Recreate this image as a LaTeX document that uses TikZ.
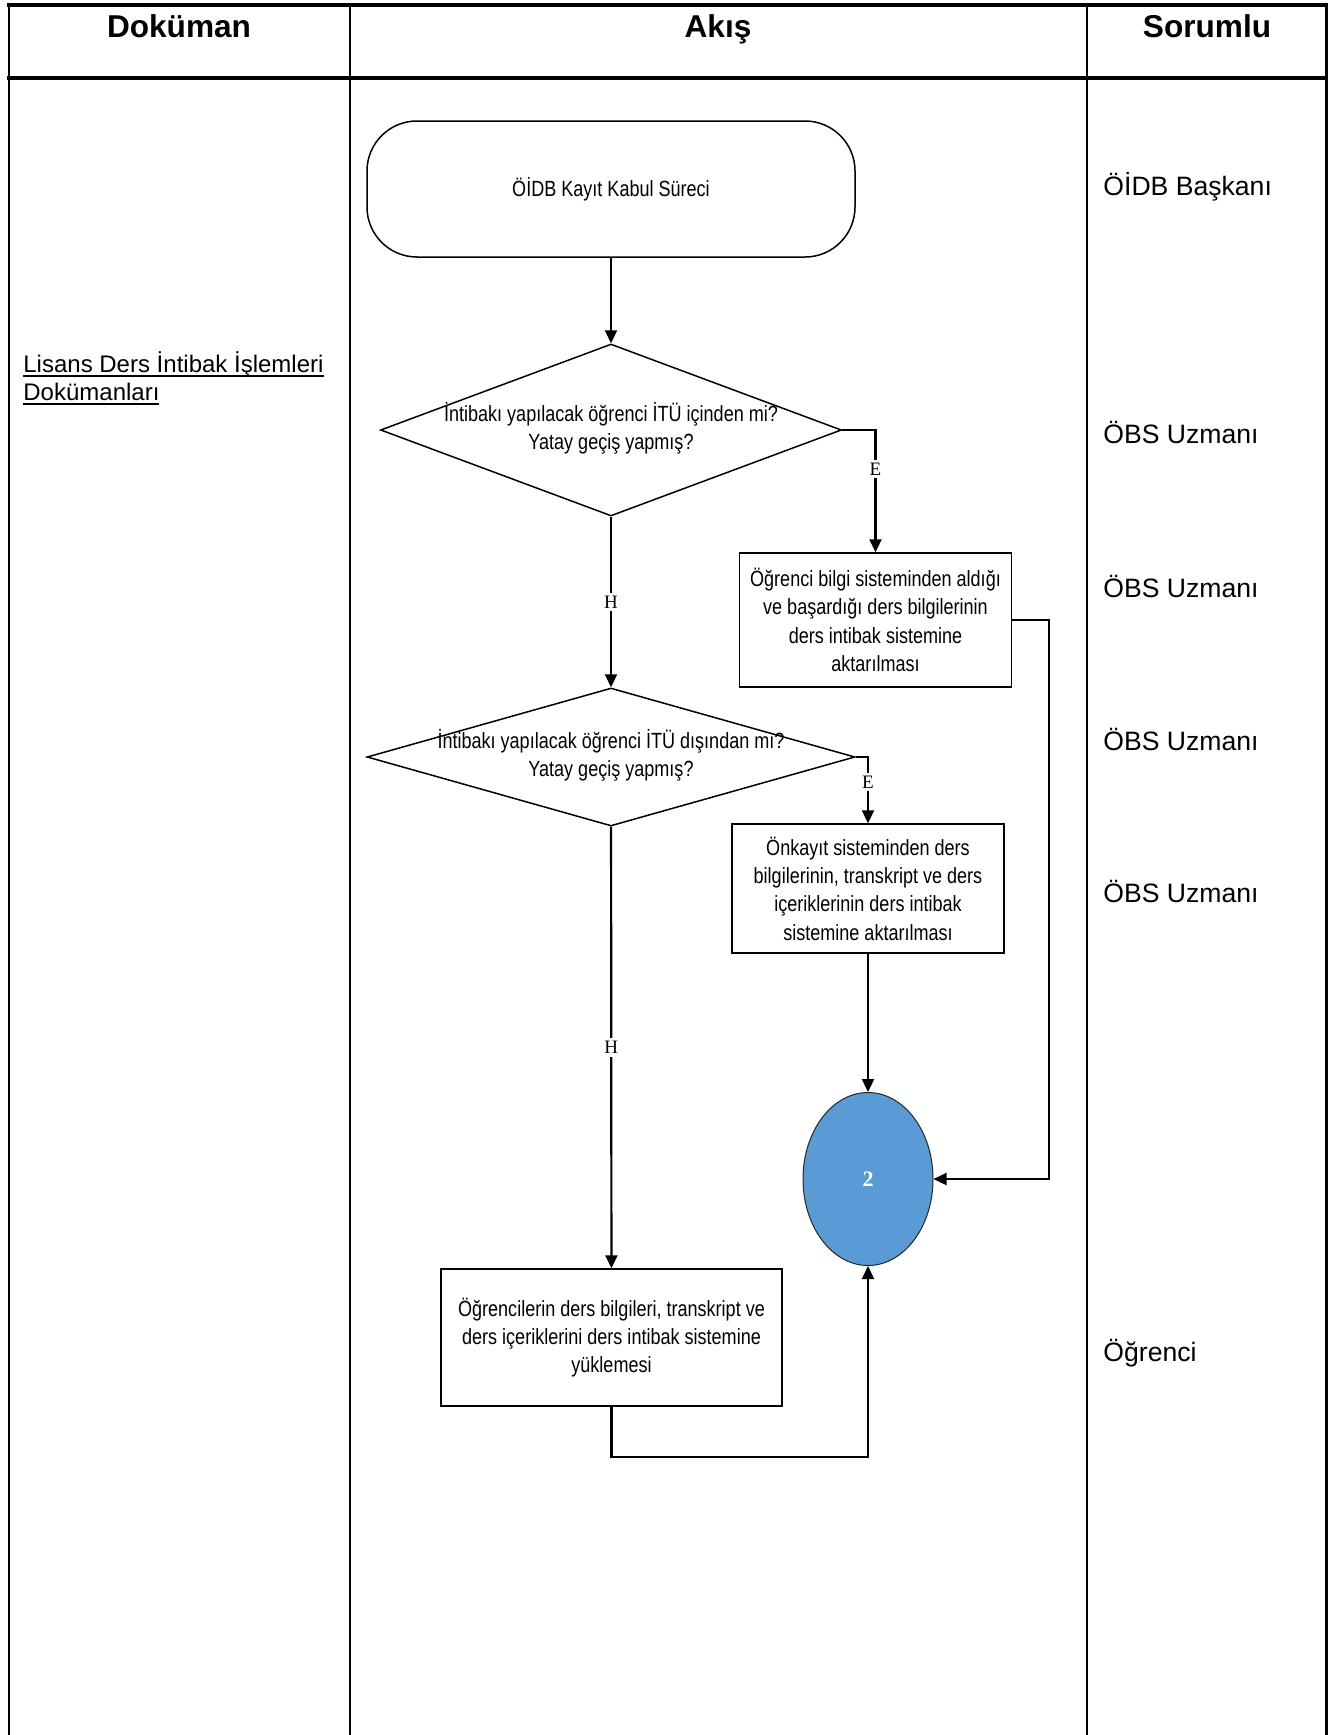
\documentclass[tikz,border=0pt]{standalone}
\usepackage{fontspec}
\setmainfont{Liberation Sans}
\newfontfamily\narrowfont{Liberation Sans}[FakeStretch=0.82]
\newfontfamily\timesfont{Liberation Serif}
\newcommand\docul[1]{\setbox0\hbox{#1}\rlap{\vrule height -1.3pt depth 2.2pt width \wd0}\box0}
\usepackage{tikz}
\definecolor{circleblue}{HTML}{5B9BD5}
\usetikzlibrary{arrows.meta, positioning, shapes.geometric}

\begin{document}
\begin{tikzpicture}[x=0.5pt, y=-0.5pt, >={Triangle[length=6.5pt,width=6pt]},
        terminal/.style={draw, line width=0.75pt, rounded corners=25pt, minimum width=244pt, minimum height=68pt, font=\narrowfont\fontsize{11}{14}\selectfont},
        process/.style={draw, line width=0.75pt, align=center, inner sep=2pt, font=\narrowfont\fontsize{11}{14.2}\selectfont},
        decision/.style={draw, diamond, line width=0.75pt, inner sep=0pt, font=\narrowfont\fontsize{11}{14}\selectfont},
        flow/.style={->, line width=1.1pt},
        choice/.style={fill=white, inner sep=1.5pt, font=\timesfont\fontsize{9.5}{11}\selectfont},
        role/.style={anchor=west, inner sep=0pt, font=\fontsize{13.3}{16}\selectfont},
        header/.style={anchor=base, font=\bfseries\fontsize{15.8}{19}\selectfont}]
        \useasboundingbox (0,0) rectangle (1335,1735);
        % table
        \draw[line width=1.8pt] (7,5) -- (1328,5);
        \draw[line width=2pt] (7,78) -- (1328,78);
        \draw[line width=1.4pt] (9,4) -- (9,1735);
        \draw[line width=1.2pt] (350,5) -- (350,1735);
        \draw[line width=1.4pt] (1087,5) -- (1087,1735);
        \draw[line width=1.6pt] (1326.5,4) -- (1326.5,1735);
        \node[header] (hdoc) at (179,37) {Doküman};
        \node[header] (hflow) at (718,37) {Akış};
        \node[header] (hresp) at (1207,37) {Sorumlu};
        \node[anchor=north west, align=left, inner sep=0pt, font=\fontsize{12}{14}\selectfont] (docs) at (23,351) {\docul{Lisans Ders İntibak İşlemleri}\\\docul{Dokümanları}};

        % flow
        \node[terminal] (start) at (611,189) {ÖİDB Kayıt Kabul Süreci};
        \node[decision, minimum width=230.5pt, minimum height=86pt] (q1) at (611,430) {\makebox[0pt]{\begin{tabular}{@{}c@{}}İntibakı yapılacak öğrenci İTÜ içinden mi?\\Yatay geçiş yapmış?\end{tabular}}};
        \node[process, minimum width=136pt, minimum height=67pt] (p1) at (875.5,620) {Öğrenci bilgi sisteminden aldığı\\ve başardığı ders bilgilerinin\\ders intibak sistemine\\aktarılması};
        \node[decision, minimum width=244pt, minimum height=69pt] (q2) at (611,757) {\makebox[0pt]{\begin{tabular}{@{}c@{}}İntibakı yapılacak öğrenci İTÜ dışından mı?\\Yatay geçiş yapmış?\end{tabular}}};
        \node[process, minimum width=136pt, minimum height=64.5pt] (p2) at (868,888.5) {Önkayıt sisteminden ders\\bilgilerinin, transkript ve ders\\içeriklerinin ders intibak\\sistemine aktarılması};
        \node[draw=black!85, line width=0.5pt, ellipse, fill=circleblue, minimum width=65pt, minimum height=86.5pt, text=white, font=\timesfont\bfseries\fontsize{11}{13}\selectfont] (c2) at (868,1179) {2};
        \node[process, minimum width=170.5pt, minimum height=68.5pt] (p3) at (611.5,1337.5) {Öğrencilerin ders bilgileri, transkript ve\\ders içeriklerini ders intibak sistemine\\yüklemesi};

        \draw[flow] (start) -- (q1);
        \draw[flow] (q1.east) -| node[choice, pos=0.66] {E} (p1.north);
        \draw[flow] (q1) -- node[choice] {H} (q2);
        \draw[flow] (q2.east) -| node[choice, pos=0.69] {E} (p2.north);
        \draw[flow] (p2) -- (c2);
        \draw[flow] (p1.east) -- ++(37,0) |- (c2.east);
        \draw[flow] (q2) -- node[choice] {H} (p3);
        \draw[flow] (p3.south) -- ++(0,50) -| (c2.south);

        % roles
        \node[role] (r1) at (1103,187) {ÖİDB Başkanı};
        \node[role] (r2) at (1103,432) {ÖBS Uzmanı};
        \node[role] (r3) at (1103,586) {ÖBS Uzmanı};
        \node[role] (r4) at (1103,739) {ÖBS Uzmanı};
        \node[role] (r5) at (1103,891) {ÖBS Uzmanı};
        \node[role] (r6) at (1103,1353) {Öğrenci};
    \end{tikzpicture}
\end{document}
